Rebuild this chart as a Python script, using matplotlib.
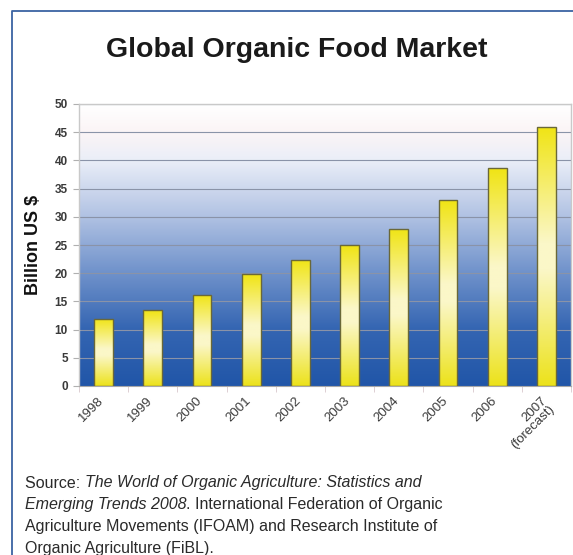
import numpy as np
import matplotlib
matplotlib.use("Agg")
import matplotlib.pyplot as plt
from matplotlib.colors import LinearSegmentedColormap
from matplotlib.lines import Line2D
from matplotlib.transforms import ScaledTranslation, blended_transform_factory

# Market size, billion US dollars
years = ["1998", "1999", "2000", "2001", "2002", "2003", "2004", "2005", "2006",
         "2007\n(forecast)"]
values = [11.9, 13.4, 16.2, 19.8, 22.4, 25.0, 27.9, 32.9, 38.6, 46.0]
y_ticks = [0, 5, 10, 15, 20, 25, 30, 35, 40, 45, 50]

title = "Global Organic Food Market"
y_label = "Billion US $"

W, H = 573, 555
fig = plt.figure(figsize=(W / 100, H / 100), dpi=100)
fig.patch.set_facecolor("white")

# outer frame (left and top edges)
frame_col = "#3b63a3"
fig.add_artist(Line2D([12 / W, 12 / W, 1.0], [0.0, 1 - 11 / H, 1 - 11 / H],
                      transform=fig.transFigure, color=frame_col, lw=1.3))

ax = fig.add_axes([79 / W, 1 - 386 / H, (571 - 79) / W, (386 - 104) / H])

n = len(values)
x = np.arange(n)

# blue vertical gradient backdrop
bg_cmap = LinearSegmentedColormap.from_list(
    "bg", [(0.0, "#2156a8"), (0.2, "#3465b2"), (0.42, "#7596cd"),
           (0.62, "#b6c6e5"), (0.8, "#eaeef8"), (0.9, "#fbf4f6"), (1.0, "#ffffff")])
grad = np.linspace(0, 1, 256).reshape(-1, 1)
ax.imshow(grad, extent=(-0.5, n - 0.5, 0, 50), origin="lower", aspect="auto",
          cmap=bg_cmap, zorder=0)

# grid lines
for t in y_ticks[1:]:
    ax.axhline(t, color="#8a93a8", lw=0.8, zorder=1)

# bars with a yellow vertical gradient
bar_cmap = LinearSegmentedColormap.from_list(
    "bar", [(0.0, "#ece21a"), (0.45, "#fbf7c8"), (0.55, "#fbf7c8"), (1.0, "#f0e414")])
bars = ax.bar(x, values, width=0.38, color="none", edgecolor="#6a6838", lw=1.0,
              zorder=3)
for b, v in zip(bars, values):
    x0 = b.get_x()
    g = np.linspace(0, 1, 256).reshape(-1, 1)
    im = ax.imshow(g, extent=(x0, x0 + b.get_width(), 0, v), origin="lower",
                   aspect="auto", cmap=bar_cmap, zorder=2)
    im.set_clip_path(b)

ax.set_xlim(-0.5, n - 0.5)
ax.set_ylim(0, 50)

# spines
for s in ["top", "right", "left"]:
    ax.spines[s].set_color("#c9c9c9")
    ax.spines[s].set_linewidth(1.0)
ax.spines["bottom"].set_color("#a8a8a8")

ax.set_yticks(y_ticks)
ax.set_yticklabels([str(t) for t in y_ticks], fontsize=8.5, fontweight="bold",
                   color="#3a3a3a", family="Liberation Sans")
ax.tick_params(axis="y", length=4, color="#b0b0b0", pad=4)

# category labels, rotated and set slightly left of each bar
ax.set_xticks(x)
ax.set_xticklabels([])
ax.tick_params(axis="x", length=0)
ax.set_xticks(np.arange(-0.5, n, 1), minor=True)
ax.tick_params(axis="x", which="minor", length=4, color="#d8c8cc")
lab_tr = blended_transform_factory(ax.transData, ax.transAxes) + \
    ScaledTranslation(-0.06, -0.09, fig.dpi_scale_trans)
for xi, lab in zip(x, years):
    ax.text(xi, 0, lab, transform=lab_tr, rotation=45, rotation_mode="anchor",
            ha="right", va="top", fontsize=9.5, color="#3a3a3a",
            family="Liberation Sans", linespacing=0.9, clip_on=False)

ax.set_ylabel(y_label, fontsize=13, fontweight="bold", family="Liberation Sans",
              color="#111111", labelpad=9)

fig.text(297 / W, 1 - 57 / H, title, ha="center", va="baseline", fontsize=20.5,
         fontweight="bold", family="Liberation Sans", color="#1a1a1a")

# source note with italic titles
renderer = fig.canvas.get_renderer()
lines = [
    [("Source: ", "normal"), ("The World of Organic Agriculture: Statistics and", "italic")],
    [("Emerging Trends 2008", "italic"), (". International Federation of Organic", "normal")],
    [("Agriculture Movements (IFOAM) and Research Institute of", "normal")],
    [("Organic Agriculture (FiBL).", "normal")],
]
y0 = 483
for i, parts in enumerate(lines):
    xp = 25
    for txt, style in parts:
        t = fig.text(xp / W, 1 - (y0 + 22 * i) / H, txt, ha="left", va="center",
                     fontsize=11.5, style=style, family="Liberation Sans",
                     color="#2a2a2a")
        bb = t.get_window_extent(renderer=renderer)
        xp += bb.width

fig.savefig("out.png", dpi=100)
